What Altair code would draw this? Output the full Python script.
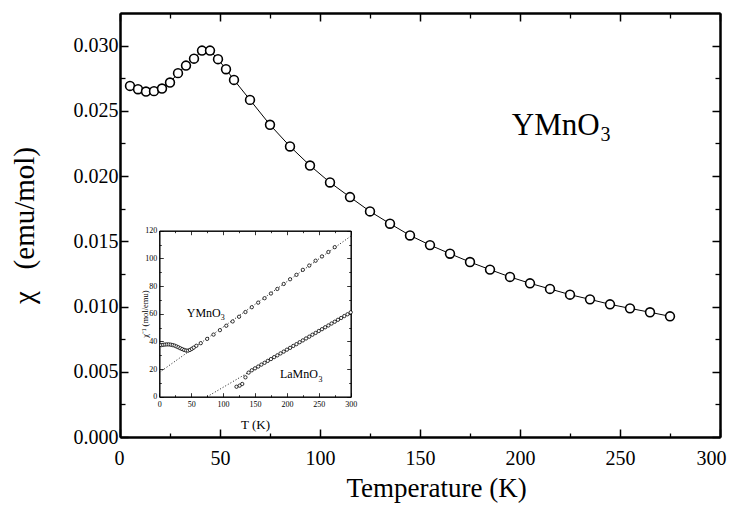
import altair as alt
import pandas as pd

SERIF = "Liberation Serif"

# ---- main curve: chi(T) of YMnO3 ----
T_main = [5, 9, 13, 17, 21, 25, 29, 33, 37, 41, 45, 49, 53, 57, 65, 75, 85, 95, 105, 115,
          125, 135, 145, 155, 165, 175, 185, 195, 205, 215, 225, 235, 245, 255, 265, 275]
chi_main = [0.02691, 0.02666, 0.02648, 0.02651, 0.02671, 0.02717, 0.02789, 0.02847, 0.02900,
            0.02962, 0.02962, 0.02896, 0.02819, 0.02737, 0.02584, 0.02393, 0.02227, 0.02081,
            0.01951, 0.01839, 0.01729, 0.01635, 0.01545, 0.01471, 0.01405, 0.01341, 0.01283,
            0.01227, 0.01178, 0.01135, 0.01091, 0.01055, 0.01017, 0.00986, 0.00956, 0.00925]

# ---- inset: inverse susceptibility ----
T_ymno = [3, 6, 9, 12, 15, 18, 21, 24, 27, 30, 33, 36, 39, 42, 45, 48, 51, 54, 58,
          65, 75, 85, 95, 105, 115, 125, 135, 145, 155, 165, 175, 185, 195, 205, 215,
          225, 235, 245, 255, 265, 275]
inv_ymno = [37.3, 37.5, 37.7, 37.8, 37.8, 37.6, 37.3, 36.9, 36.3, 35.7, 35.0, 34.4, 33.8,
            33.4, 33.3, 33.8, 34.6, 35.5, 36.8, 38.7, 41.8, 44.9, 48.1, 51.3, 54.4, 57.8,
            61.2, 64.7, 68.0, 71.2, 74.6, 77.9, 81.5, 84.9, 88.1, 91.7, 94.8, 98.3, 101.4,
            104.6, 108.1]
T_lamno = [121, 126, 130, 135, 140, 145, 150, 155, 160, 165, 170, 175, 180, 185, 190, 195,
           200, 205, 210, 215, 220, 225, 230, 235, 240, 245, 250, 255, 260, 265, 270, 275,
           280, 285, 290, 295, 300]
inv_lamno = [7.2, 8.0, 9.2, 14.0, 17.4, 19.1, 20.5, 21.8, 23.2, 24.5, 25.9, 27.2, 28.6,
             29.9, 31.3, 32.6, 34.0, 35.3, 36.7, 38.0, 39.4, 40.7, 42.1, 43.4, 44.8, 46.1,
             47.5, 48.8, 50.2, 51.5, 52.9, 54.2, 55.6, 56.9, 58.3, 59.6, 61.0]
fit_y_T = [0, 300]
fit_y_v = [17.5, 116.0]
fit_la_T = [75, 300]
fit_la_v = [0.0, 61.0]

# ---- ticks ----
x_major = [0, 50, 100, 150, 200, 250, 300]
x_minor = [25, 75, 125, 175, 225, 275]
y_major = [0.0, 0.005, 0.010, 0.015, 0.020, 0.025, 0.030]
y_minor = [0.0025, 0.0075, 0.0125, 0.0175, 0.0225, 0.0275]
iy_major = [0, 20, 40, 60, 80, 100, 120]
iy_minor = [10, 30, 50, 70, 90, 110]

# ---- annotations ----
main_lab_T = [195.9]
main_lab_chi = [0.02316]
main_sub_T = [240.3]
main_sub_chi = [0.02272]
in_lab_text = ["YMnO", "LaMnO"]
in_lab_T = [43.0, 189.0]
in_lab_v = [57.8, 13.3]
in_sub_T = [96.5, 249.5]
in_sub_v = [55.2, 10.6]

main_df = pd.DataFrame({"x": T_main, "y": chi_main})
ymno_df = pd.DataFrame({"x": T_ymno, "y": inv_ymno})
lamno_df = pd.DataFrame({"x": T_lamno, "y": inv_lamno})
fity_df = pd.DataFrame({"x": fit_y_T, "y": fit_y_v})
fitla_df = pd.DataFrame({"x": fit_la_T, "y": fit_la_v})

W, H = 600, 424
XS = alt.Scale(domain=[0, 300], nice=False, zero=False)
YS = alt.Scale(domain=[0, 0.0325], nice=False, zero=False)
IX0, IX1 = 39.3, 230.7
IY0, IY1 = 383.7, 217.7
IXS = alt.Scale(domain=[0, 300], range=[IX0, IX1], nice=False, zero=False)
IYS = alt.Scale(domain=[0, 120], range=[IY0, IY1], nice=False, zero=False)

common = dict(domainColor="black", tickColor="black", labelColor="black", grid=False,
              labelFont=SERIF, labelFlush=False, labelOverlap=False,
              titleFont=SERIF, titleFontWeight="normal", titleColor="black")


def ax(**kw):
    d = dict(common)
    d.update(kw)
    return alt.Axis(**d)


def enc(ch, xs, ys, xa=None, ya=None):
    return ch.encode(
        x=alt.X("x:Q", scale=xs, axis=xa),
        y=alt.Y("y:Q", scale=ys, axis=ya),
    )


# main axes
main_x = ax(orient="bottom", values=x_major, format="d", tickSize={"expr": "-8"},
            tickWidth=1.5, domainWidth=2, labelFontSize=20, labelPadding=19,
            labelFlush=True, labelFlushOffset=6,
            title="Temperature (K)", titleFontSize=27, titleX=316, titleY=59,
            titleBaseline="alphabetic")
main_y = ax(orient="left", values=y_major, format=".3f", tickSize={"expr": "-8"},
            tickWidth=1.5, domainWidth=2, labelFontSize=20, labelPadding=10,
            title="\u03c7\u00a0\u00a0\u00a0(emu/mol)", titleFontSize=29, titleX=-87,
            titleY=212, titleBaseline="alphabetic", titleAngle=270)

def tick_axis(orient, vals, size, width, dw, offset=None):
    kw = dict(orient=orient, values=vals, tickSize={"expr": str(-size)}, tickWidth=width,
              domainWidth=dw, labels=False, title=None)
    if offset is not None:
        kw["offset"] = offset
    return ax(**kw)

layers = []
# main line + points
layers.append(enc(alt.Chart(main_df).mark_line(color="black", strokeWidth=1), XS, YS,
                  main_x, main_y))
layers.append(enc(alt.Chart(main_df).mark_point(shape="circle", filled=True, fill="white",
                                                fillOpacity=1, stroke="black",
                                                strokeWidth=1.6, size=78, opacity=1),
                  XS, YS))
# main minor ticks, mirror frame
inv = dict(opacity=0)
layers.append(enc(alt.Chart(main_df).mark_point(**inv), XS, YS,
                  tick_axis("bottom", x_minor, 4, 1.3, 2),
                  tick_axis("left", y_minor, 5, 1.3, 2)))
layers.append(enc(alt.Chart(main_df).mark_point(**inv), XS, YS,
                  tick_axis("top", x_major, 8, 1.5, 2),
                  tick_axis("right", y_major, 8, 1.5, 2)))
layers.append(enc(alt.Chart(main_df).mark_point(**inv), XS, YS,
                  tick_axis("top", x_minor, 5, 1.3, 2),
                  tick_axis("right", y_minor, 5, 1.3, 2)))

# main label
lab_df = pd.DataFrame({"x": main_lab_T, "y": main_lab_chi, "t": ["YMnO"]})
sub_df = pd.DataFrame({"x": main_sub_T, "y": main_sub_chi, "t": ["3"]})
layers.append(enc(alt.Chart(lab_df).mark_text(font=SERIF, fontSize=31, align="left",
                                              baseline="alphabetic", color="black"),
                  XS, YS).encode(text="t:N"))
layers.append(enc(alt.Chart(sub_df).mark_text(font=SERIF, fontSize=20, align="left",
                                              baseline="alphabetic", color="black"),
                  XS, YS).encode(text="t:N"))

# ---- inset ----
in_x = ax(orient="bottom", values=x_major, format="d", tickSize={"expr": "-4"},
          tickWidth=0.8, domainWidth=1, labelFontSize=8, labelPadding=8, offset=IY0 - H,
          title="T (K)", titleFontSize=13, titleX=(IX0 + IX1) / 2, titleY=31.5,
          titleBaseline="alphabetic")
in_y = ax(orient="left", values=iy_major, format="d", tickSize={"expr": "-4"},
          tickWidth=0.8, domainWidth=1, labelFontSize=8, labelPadding=6.5, offset=-IX0,
          title="\u03c7\u207b\u00b9 (mol/emu)", titleFontSize=8.5, titleX=-12,
          titleY=(IY0 + IY1) / 2, titleBaseline="alphabetic", titleAngle=270)

layers.append(enc(alt.Chart(fity_df).mark_line(color="black", strokeWidth=0.9,
                                               strokeDash=[1, 2]), IXS, IYS, in_x, in_y))
layers.append(enc(alt.Chart(fitla_df).mark_line(color="black", strokeWidth=0.9,
                                                strokeDash=[1, 2]), IXS, IYS))
pt = dict(shape="circle", filled=True, fill="white", fillOpacity=1, stroke="black",
          strokeWidth=0.8, size=11, opacity=1)
layers.append(enc(alt.Chart(ymno_df).mark_point(**pt), IXS, IYS))
layers.append(enc(alt.Chart(lamno_df).mark_point(**pt), IXS, IYS))
layers.append(enc(alt.Chart(ymno_df).mark_point(**inv), IXS, IYS,
                  tick_axis("bottom", x_minor, 2, 0.8, 1, IY0 - H),
                  tick_axis("left", iy_minor, 2, 0.8, 1, -IX0)))
layers.append(enc(alt.Chart(ymno_df).mark_point(**inv), IXS, IYS,
                  tick_axis("top", x_major, 4, 0.8, 1, -IY1),
                  tick_axis("right", iy_major, 4, 0.8, 1, IX1 - W)))
layers.append(enc(alt.Chart(ymno_df).mark_point(**inv), IXS, IYS,
                  tick_axis("top", x_minor, 2, 0.8, 1, -IY1),
                  tick_axis("right", iy_minor, 2, 0.8, 1, IX1 - W)))

inlab_df = pd.DataFrame({"x": in_lab_T, "y": in_lab_v, "t": in_lab_text})
insub_df = pd.DataFrame({"x": in_sub_T, "y": in_sub_v, "t": ["3", "3"]})
layers.append(enc(alt.Chart(inlab_df).mark_text(font=SERIF, fontSize=12, align="left",
                                                baseline="alphabetic", color="black"),
                  IXS, IYS).encode(text="t:N"))
layers.append(enc(alt.Chart(insub_df).mark_text(font=SERIF, fontSize=8, align="left",
                                                baseline="alphabetic", color="black"),
                  IXS, IYS).encode(text="t:N"))

chart = alt.layer(*layers).resolve_scale(x="independent", y="independent").properties(
    width=W, height=H,
    autosize=alt.AutoSizeParams(type="none"),
    padding={"left": 112, "top": 5, "right": 7, "bottom": 67},
    background="white",
).configure_view(stroke=None)

chart.save("out.html", embed_options={"renderer": "svg", "actions": False})
